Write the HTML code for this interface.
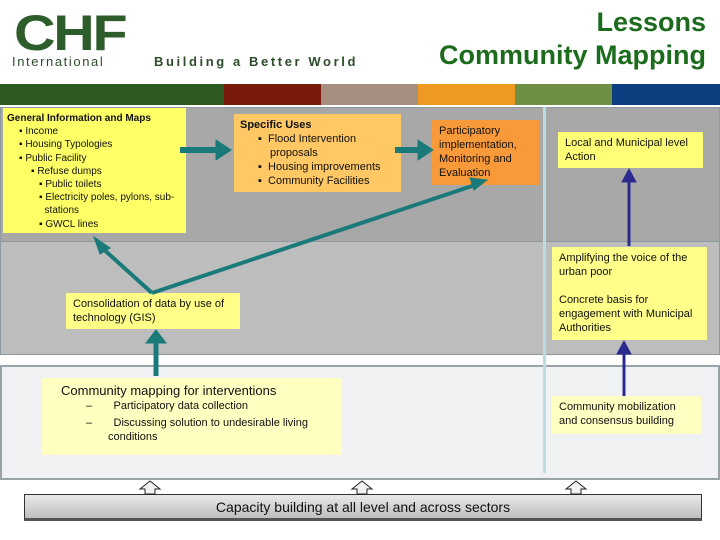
<!DOCTYPE html>
<html><head><meta charset="utf-8"><style>
*{margin:0;padding:0;box-sizing:border-box}
body{width:720px;height:540px;position:relative;background:#fff;font-family:"Liberation Sans",Arial,sans-serif;overflow:hidden;color:#111}
.a{position:absolute}
.t{font-size:11px;line-height:14px}
</style></head><body>
<div class="a" style="left:14px;top:8px;font-size:50px;font-weight:bold;color:#2d5d2a;letter-spacing:-2px;line-height:50px;transform:scaleX(1.15);transform-origin:left">CHF</div>
<div class="a" style="left:12px;top:54px;font-size:13px;color:#2d4d2a;letter-spacing:1.6px">International</div>
<div class="a" style="left:154px;top:54px;font-size:13px;color:#2d4d2a;letter-spacing:2.6px;font-weight:bold">Building a Better World</div>
<div class="a" style="right:14px;top:6px;font-size:27px;font-weight:bold;color:#1d6b1d;text-align:right;line-height:33px">Lessons<br>Community Mapping</div>
<div class="a" style="left:0;top:84px;width:224px;height:21px;background:#2d5a1e"></div>
<div class="a" style="left:224px;top:84px;width:97px;height:21px;background:#7a1a0c"></div>
<div class="a" style="left:321px;top:84px;width:97px;height:21px;background:#a68e80"></div>
<div class="a" style="left:418px;top:84px;width:97px;height:21px;background:#ee9a22"></div>
<div class="a" style="left:515px;top:84px;width:97px;height:21px;background:#6f8f45"></div>
<div class="a" style="left:612px;top:84px;width:108px;height:21px;background:#0d3f80"></div>
<div class="a" style="left:0;top:107px;width:720px;height:135px;background:#a8a8a8;border:1px solid #8c9aa0"></div>
<div class="a" style="left:0;top:241px;width:720px;height:114px;background:#bdbdbd;border:1px solid #8c9aa0"></div>
<div class="a" style="left:0;top:365px;width:720px;height:115px;background:#f0f1f2;border:2px solid #9aa3a8"></div>
<div class="a" style="left:543px;top:107px;width:3px;height:366px;background:#b8dde3"></div>
<div class="a t" style="left:3px;top:108px;width:183px;height:125px;background:#ffff66;padding:4px 4px;font-size:10px;line-height:13.2px">
<b>General Information and Maps</b>
<div style="padding-left:12px">▪ Income<br>▪ Housing Typologies<br>▪ Public Facility</div>
<div style="padding-left:32px;text-indent:-8px">▪ Refuse dumps<br>▪ Public toilets<br>▪ Electricity poles, pylons, sub-<br>&nbsp;&nbsp;stations<br>▪ GWCL lines</div>
</div>
<div class="a t" style="left:234px;top:114px;width:167px;height:78px;background:#ffc864;padding:4px 6px">
<b>Specific Uses</b>
<div style="padding-left:30px;text-indent:-12px">▪&nbsp; Flood Intervention<br>proposals</div>
<div style="padding-left:30px;text-indent:-12px">▪&nbsp; Housing improvements</div>
<div style="padding-left:30px;text-indent:-12px">▪&nbsp; Community Facilities</div>
</div>
<div class="a t" style="left:432px;top:120px;width:107px;height:65px;background:#f99a3a;padding:4px 7px">Participatory implementation, Monitoring and Evaluation</div>
<div class="a t" style="left:558px;top:132px;width:145px;height:36px;background:#ffff77;padding:4px 7px">Local and Municipal level Action</div>
<div class="a t" style="left:552px;top:247px;width:155px;height:93px;background:#ffff8a;padding:4px 7px">Amplifying the voice of the urban poor<br><br>Concrete basis for engagement with Municipal Authorities</div>
<div class="a t" style="left:66px;top:293px;width:174px;height:36px;background:#ffff88;padding:4px 7px">Consolidation of data by use of technology (GIS)</div>
<div class="a t" style="left:42px;top:378px;width:300px;height:77px;background:#ffffc2;padding:4px 19px">
<div style="font-size:13px;line-height:17px">Community mapping for interventions</div>
<div style="padding-left:65px;text-indent:-40px">–&nbsp;&nbsp;&nbsp;&nbsp;&nbsp;&nbsp;&nbsp;Participatory data collection</div>
<div style="padding-left:47px;text-indent:-22px;margin-top:3px">–&nbsp;&nbsp;&nbsp;&nbsp;&nbsp;&nbsp;&nbsp;Discussing solution to undesirable living<br>conditions</div>
</div>
<div class="a t" style="left:552px;top:396px;width:149px;height:38px;background:#ffffc2;padding:4px 7px">Community mobilization and consensus building</div>
<div class="a" style="left:24px;top:494px;width:678px;height:27px;background:linear-gradient(#e8e8e8,#bfbfbf);border:1px solid #333;border-bottom:3px solid #555;text-align:center;font-size:14px;line-height:24px">Capacity building at all level and across sectors</div>
<svg class="a" style="left:0;top:0" width="720" height="540">
<g fill="#1a7a7a" stroke="#1a7a7a">
<line x1="180" y1="150" x2="220" y2="150" stroke-width="6"/><polygon points="216,140 231,150 216,160"/>
<line x1="395" y1="150" x2="422" y2="150" stroke-width="6"/><polygon points="418,140 433,150 418,160"/>
<line x1="152" y1="293" x2="100" y2="246" stroke-width="4"/><polygon points="94,237 110,248 100,254" />
<line x1="152" y1="293" x2="478" y2="184" stroke-width="4"/><polygon points="487,180 470,178 474,190"/>
<line x1="156" y1="376" x2="156" y2="342" stroke-width="5"/><polygon points="146,343 156,330 166,343"/>
</g>
<g fill="#2b2b8f" stroke="#2b2b8f">
<line x1="629" y1="246" x2="629" y2="178" stroke-width="3"/><polygon points="622,182 629,169 636,182"/>
<line x1="624" y1="396" x2="624" y2="350" stroke-width="3"/><polygon points="617,354 624,341 631,354"/>
</g>
<g fill="#f2f2f2" stroke="#222" stroke-width="1">
<polygon points="150,481 160,489 155,489 155,494 145,494 145,489 140,489"/>
<polygon points="362,481 372,489 367,489 367,494 357,494 357,489 352,489"/>
<polygon points="576,481 586,489 581,489 581,494 571,494 571,489 566,489"/>
</g>
</svg>
</body></html>
